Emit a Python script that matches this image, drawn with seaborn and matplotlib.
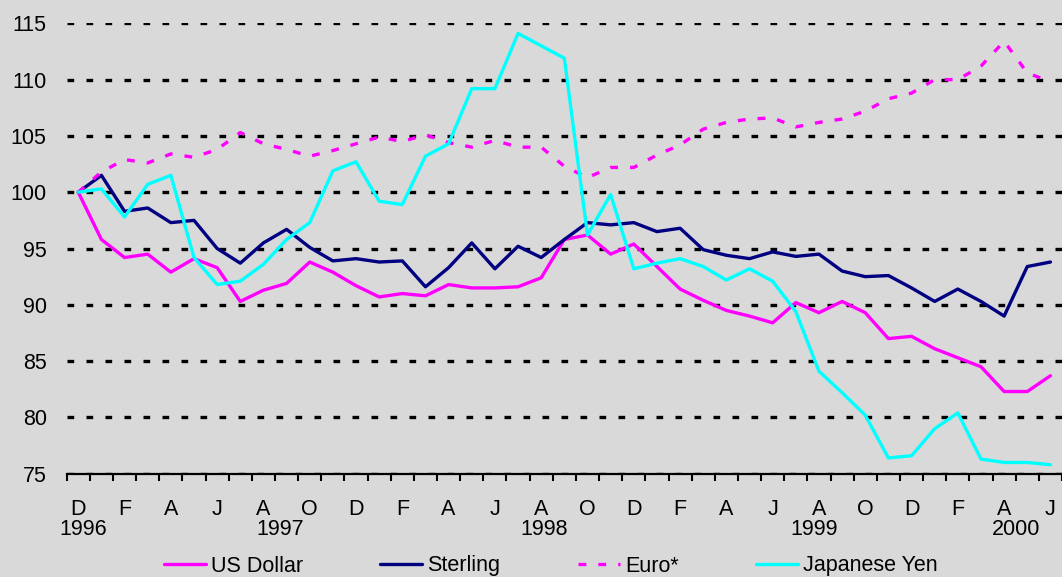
import matplotlib
matplotlib.use("Agg")
import matplotlib.pyplot as plt
import numpy as np
import pandas as pd
import seaborn as sns

# ---------------- data ----------------
dates = pd.date_range("1996-12-01", periods=43, freq="MS")

us_dollar = [100, 95.8, 94.2, 94.5, 92.9, 94.1, 93.3, 90.3, 91.3, 91.9,
             93.8, 92.9, 91.7, 90.7, 91.0, 90.8, 91.8, 91.5, 91.5, 91.6,
             92.4, 95.8, 96.2, 94.5, 95.4, 93.4, 91.4, 90.4, 89.5, 89.0,
             88.4, 90.2, 89.3, 90.3, 89.3, 87.0, 87.2, 86.1, 85.3, 84.5,
             82.3, 82.3, 83.7]
sterling = [100, 101.5, 98.3, 98.6, 97.3, 97.5, 95.0, 93.7, 95.5, 96.7,
            95.1, 93.9, 94.1, 93.8, 93.9, 91.6, 93.3, 95.5, 93.2, 95.2,
            94.2, 95.8, 97.3, 97.1, 97.3, 96.5, 96.8, 94.9, 94.4, 94.1,
            94.7, 94.3, 94.5, 93.0, 92.5, 92.6, 91.5, 90.3, 91.4, 90.3,
            89.0, 93.4, 93.8]
euro = [100, 101.8, 102.9, 102.6, 103.4, 103.1, 103.8, 105.3, 104.3, 103.8,
        103.2, 103.7, 104.3, 104.9, 104.5, 105.1, 104.4, 104.0, 104.6, 104.0,
        104.0, 102.3, 101.3, 102.2, 102.2, 103.3, 104.2, 105.6, 106.2, 106.5,
        106.6, 105.8, 106.2, 106.5, 107.2, 108.3, 108.8, 110.0, 110.0, 111.2,
        113.4, 110.6, 109.8]
yen = [100, 100.3, 97.8, 100.7, 101.5, 94.2, 91.8, 92.1, 93.6, 95.8,
       97.3, 101.9, 102.7, 99.2, 98.9, 103.2, 104.3, 109.2, 109.2, 114.1,
       113.0, 111.9, 96.2, 99.8, 93.2, 93.7, 94.1, 93.4, 92.2, 93.2,
       92.1, 89.4, 84.1, 82.2, 80.2, 76.4, 76.6, 79.0, 80.4, 76.3,
       76.0, 76.0, 75.8]

series_names = ["US Dollar", "Sterling", "Euro*", "Japanese Yen"]
series_values = [us_dollar, sterling, euro, yen]
month_labels = [d.strftime("%b")[0] for d in dates[::2]]
year_labels = ["1996", "1997", "1998", "1999", "2000"]
year_pos = [0.23, 8.72, 20.12, 31.81, 40.5]
y_ticks = [75, 80, 85, 90, 95, 100, 105, 110, 115]

# ---------------- style ----------------
BG = "#D9D9D9"
colors = ["#FF00FF", "#000080", "#FF00FF", "#00FFFF"]
styles = ["-", "-", (0, (2.35, 3.6)), "-"]

sns.set_style("white")
plt.rcParams["font.family"] = ["Liberation Sans", "DejaVu Sans"]
plt.rcParams["text.color"] = "black"
FS = 15.5

fig = plt.figure(figsize=(10.62, 5.77), dpi=100, facecolor=BG)
ax = fig.add_axes([0.0628, 0.1790, 0.9372, 0.7806])
ax.set_facecolor(BG)

x = np.arange(len(dates))
for name, vals, c, ls in zip(series_names, series_values, colors, styles):
    df = pd.DataFrame({"x": x, "v": vals})
    sns.lineplot(data=df, x="x", y="v", ax=ax, color=c, linewidth=2.4,
                 linestyle=ls, label=name, legend=False)

ax.set_xlim(-0.5, 42.31)
ax.set_ylim(75, 115)
ax.set_xlabel("")
ax.set_ylabel("")

# gridlines
ax.set_yticks(y_ticks)
ax.set_yticklabels([str(t) for t in y_ticks], fontsize=FS, color="black")
ax.yaxis.grid(True, color="black", linewidth=2.4, linestyle=(0, (2.0, 3.7)))
ax.xaxis.grid(False)
ax.set_axisbelow(True)
ax.tick_params(axis="y", length=0, pad=14.4, left=False)

# x axis
ax.set_xticks(x[::2])
ax.set_xticklabels(month_labels, fontsize=FS, color="black")
ax.set_xticks(np.arange(-0.5, 43, 1.0), minor=True)
ax.tick_params(axis="x", which="major", length=0, pad=18.0, bottom=True)
ax.tick_params(axis="x", which="minor", length=4.7, width=1.5, bottom=True,
               color="black", direction="out")

for s in ["top", "left", "right"]:
    ax.spines[s].set_visible(False)
ax.spines["bottom"].set_color("black")
ax.spines["bottom"].set_linewidth(1.6)
ax.spines["bottom"].set_zorder(5)

for lab, xp in zip(year_labels, year_pos):
    ax.annotate(lab, xy=(xp, 0), xycoords=("data", "axes fraction"),
                xytext=(0, -32.5), textcoords="offset points",
                ha="center", va="top", fontsize=FS, color="black",
                annotation_clip=False)

handles, labels = ax.get_legend_handles_labels()
leg = fig.legend(handles, labels, loc="center left",
                 bbox_to_anchor=(163.6 / 1062, 1 - 566 / 577), ncol=4,
                 frameon=False, fontsize=FS, handlelength=1.95,
                 handletextpad=0.24, columnspacing=3.6, borderpad=0,
                 borderaxespad=0)
for t in leg.get_texts():
    t.set_color("black")

fig.savefig("out.png", dpi=100, facecolor=BG)
